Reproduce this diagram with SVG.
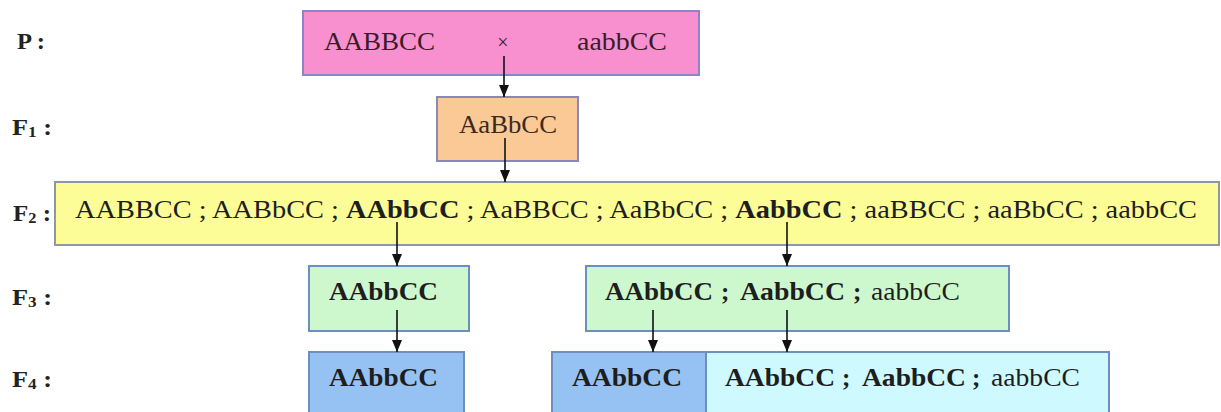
<svg xmlns="http://www.w3.org/2000/svg" width="1221" height="412" viewBox="0 0 1221 412">
<style>
text{font-family:"Liberation Serif","Times New Roman",serif;font-size:25px;fill:#1e1e1e}
.b{font-weight:bold}
.lab{font-weight:bold;font-size:23px;fill:#222}
.sub{font-size:15px}
.box{stroke-width:2}
.con line{stroke:#111;stroke-width:1.6}
</style>
<defs>
<marker id="ah" viewBox="0 0 12 10" markerWidth="12" markerHeight="10" refX="12" refY="5" orient="auto" markerUnits="userSpaceOnUse">
<path d="M0,0 L12,5 L0,10 z" fill="#111"/>
</marker>
</defs>
<rect width="1221" height="412" fill="#fff"/>
<g id="labels">
<text class="lab" x="17" y="49" textLength="28" lengthAdjust="spacingAndGlyphs">P :</text>
<text class="lab" x="12" y="135" textLength="40" lengthAdjust="spacingAndGlyphs">F<tspan class="sub" dy="2">1</tspan><tspan dy="-2"> :</tspan></text>
<text class="lab" x="13" y="221" textLength="38" lengthAdjust="spacingAndGlyphs">F<tspan class="sub" dy="2">2</tspan><tspan dy="-2"> :</tspan></text>
<text class="lab" x="12" y="305" textLength="40" lengthAdjust="spacingAndGlyphs">F<tspan class="sub" dy="2">3</tspan><tspan dy="-2"> :</tspan></text>
<text class="lab" x="12" y="387" textLength="40" lengthAdjust="spacingAndGlyphs">F<tspan class="sub" dy="2">4</tspan><tspan dy="-2"> :</tspan></text>
</g>
<g id="nodeP">
<rect class="box" x="303" y="11" width="396" height="64" fill="#f890cf" stroke="#8a84c8"/>
<text x="324" y="50" textLength="111" lengthAdjust="spacingAndGlyphs" style="fill:#3a1c28">AABBCC</text>
<text x="503" y="49" text-anchor="middle" style="font-size:20px;fill:#3a1c28">×</text>
<text x="577" y="50" textLength="90" lengthAdjust="spacingAndGlyphs" style="fill:#3a1c28">aabbCC</text>
</g>
<g id="nodeF1">
<rect class="box" x="437" y="97" width="141" height="64" fill="#fbc996" stroke="#8a88b8"/>
<text x="459" y="133" textLength="98" lengthAdjust="spacingAndGlyphs" style="fill:#3a2a22">AaBbCC</text>
</g>
<g id="nodeF2">
<rect class="box" x="55" y="182" width="1164" height="63" fill="#fdfd98" stroke="#8c98a8"/>
<text x="75" y="218" textLength="1122" lengthAdjust="spacingAndGlyphs">AABBCC ; AABbCC ; <tspan class="b">AAbbCC</tspan> ; AaBBCC ; AaBbCC ; <tspan class="b">AabbCC</tspan> ; aaBBCC ; aaBbCC ; aabbCC</text>
</g>
<g id="nodeF3a">
<rect class="box" x="309" y="266" width="160" height="65" fill="#cdf8cd" stroke="#6d8fbf"/>
<text class="b" x="329" y="300" textLength="109" lengthAdjust="spacingAndGlyphs">AAbbCC</text>
</g>
<g id="nodeF3b">
<rect class="box" x="586" y="266" width="423" height="65" fill="#cdf8cd" stroke="#6d8fbf"/>
<text class="b" x="605" y="300" textLength="108" lengthAdjust="spacingAndGlyphs">AAbbCC</text>
<text class="b" x="721" y="300">;</text>
<text class="b" x="740" y="300" textLength="105" lengthAdjust="spacingAndGlyphs">AabbCC</text>
<text class="b" x="853" y="300">;</text>
<text x="871" y="300" textLength="89" lengthAdjust="spacingAndGlyphs">aabbCC</text>
</g>
<g id="nodeF4a">
<rect class="box" x="309" y="352" width="155" height="70" fill="#96c2f3" stroke="#6d8fbf"/>
<text class="b" x="329" y="386" textLength="109" lengthAdjust="spacingAndGlyphs">AAbbCC</text>
</g>
<g id="nodeF4b">
<rect class="box" x="552" y="352" width="154" height="70" fill="#96c2f3" stroke="#6d8fbf"/>
<text class="b" x="572" y="386" textLength="110" lengthAdjust="spacingAndGlyphs">AAbbCC</text>
</g>
<g id="nodeF4c">
<rect class="box" x="706" y="352" width="403" height="70" fill="#cdf9ff" stroke="#6d8fbf"/>
<text class="b" x="725" y="386" textLength="110" lengthAdjust="spacingAndGlyphs">AAbbCC</text>
<text class="b" x="842" y="386">;</text>
<text class="b" x="862" y="386" textLength="104" lengthAdjust="spacingAndGlyphs">AabbCC</text>
<text class="b" x="972" y="386">;</text>
<text x="991" y="386" textLength="89" lengthAdjust="spacingAndGlyphs">aabbCC</text>
</g>
<g id="connectors" class="con">
<line x1="504" y1="56" x2="504" y2="97" marker-end="url(#ah)"/>
<line x1="505" y1="138" x2="505" y2="182" marker-end="url(#ah)"/>
<line x1="397" y1="222" x2="397" y2="266" marker-end="url(#ah)"/>
<line x1="787" y1="222" x2="787" y2="266" marker-end="url(#ah)"/>
<line x1="397" y1="310" x2="397" y2="352" marker-end="url(#ah)"/>
<line x1="653" y1="310" x2="653" y2="352" marker-end="url(#ah)"/>
<line x1="787" y1="310" x2="787" y2="352" marker-end="url(#ah)"/>
</g>
</svg>
